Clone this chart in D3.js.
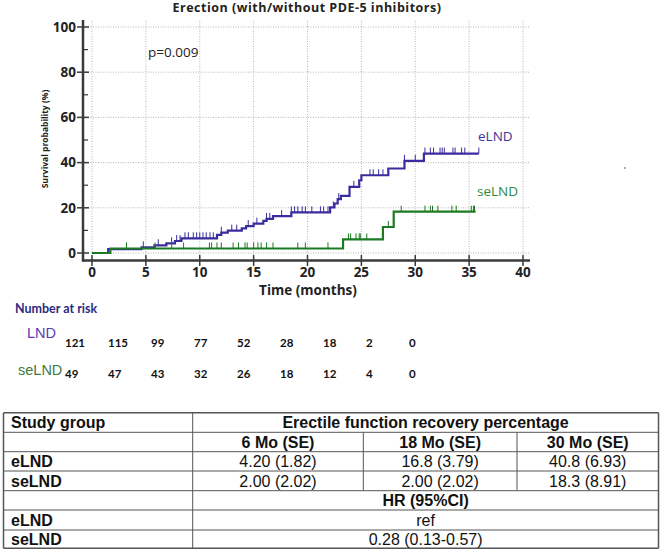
<!DOCTYPE html>
<html>
<head>
<meta charset="utf-8">
<script src="https://cdn.jsdelivr.net/npm/d3@7"></script>
<style>
  html, body { margin: 0; padding: 0; background: #fff; }
  svg { display: block; }
</style>
</head>
<body>
<svg id="chart" width="664" height="552"></svg>
<script>
// ---------------- DATA ----------------
const chartTitle = "Erection (with/without PDE-5 inhibitors)";
const pValueText = "p=0.009";
const xTicks = [0, 5, 10, 15, 20, 25, 30, 35, 40];
const yTicks = [0, 20, 40, 60, 80, 100];
const yMinorTicks = [10, 30, 50, 70, 90];

// eLND Kaplan-Meier steps: [time (months), cumulative %]
const eLNDSteps = [[0,0],[1.5,1.7],[4.6,2.5],[5.8,3.4],[6.9,4.3],[7.7,5.3],[8.3,6.5],[11.6,8.0],[12.0,9.0],[12.6,9.9],[13.9,10.9],[14.3,11.9],[15.0,13.0],[15.9,14.2],[16.2,15.1],[16.8,16.3],[18.5,18.0],[22.1,20.2],[22.5,21.9],[22.8,23.8],[23.1,25.3],[23.9,29.3],[24.8,32.2],[25.0,34.4],[27.5,37.4],[29.0,40.8],[30.8,44.0]];
const eLNDEnd = 35.9;
const eLNDCensored = [4.76,6.15,7.39,7.86,8.17,8.63,8.94,9.4,9.71,10.0,10.3,10.6,10.95,11.26,12.0,12.97,13.43,14.5,15.3,16.2,16.5,17.6,18.5,18.8,19.1,19.5,19.8,20.4,21.2,21.5,21.9,22.4,22.9,24.3,25.8,26.1,26.6,27.0,29.0,30.0,30.9,31.4,31.7,32.3,32.5,32.7,33.5,33.7,34.3,34.6,35.9];

// seLND Kaplan-Meier steps
const seLNDSteps = [[0,0],[1.7,2.0],[23.3,6.0],[27.0,11.5],[28.0,18.3]];
const seLNDEnd = 35.6;
const seLNDCensored = [3.2,5.85,7.4,8.5,10.9,11.1,11.6,12.0,13.1,13.6,14.2,14.4,15.0,15.4,15.7,16.2,16.8,19.1,19.8,21.9,23.8,24.0,24.5,24.8,24.9,25.5,27.5,28.7,30.9,31.4,31.6,32.1,33.4,33.8,35.2,35.4,35.5];

const riskTimes = [0, 5, 10, 15, 20, 25, 30, 35, 40];
const riskELND = [121, 115, 99, 77, 52, 28, 18, 2, 0];
const riskSeLND = [49, 47, 43, 32, 26, 18, 12, 4, 0];

const tableTopHeader = ["Study group", "Erectile function recovery percentage"];
const tableTimeHeaders = ["6 Mo (SE)", "18 Mo (SE)", "30 Mo (SE)"];
const tableGroups = ["eLND", "seLND"];
const tableELND = ["4.20 (1.82)", "16.8 (3.79)", "40.8 (6.93)"];
const tableSeLND = ["2.00 (2.02)", "2.00 (2.02)", "18.3 (8.91)"];
const hrHeader = "HR (95%CI)";
const hrValues = ["ref", "0.28 (0.13-0.57)"];

// ---------------- DRAW ----------------
const svg = d3.select("#chart");
const blue = "#3a2c9e";
const green = "#1c7a22";
const sansBold = "'Open Sans', sans-serif";

const x = d3.scaleLinear().domain([0, 40]).range([92, 523]);
const y = d3.scaleLinear().domain([0, 100]).range([253, 27]);

// grid
const grid = svg.append("g");
grid.selectAll(".gx").data(xTicks).join("line")
  .attr("x1", d => x(d)).attr("x2", d => x(d)).attr("y1", 21).attr("y2", 260)
  .attr("stroke", "#b8b8b8").attr("stroke-width", 1).attr("stroke-dasharray", "1,1.5");
grid.selectAll(".gy").data(yTicks).join("line")
  .attr("x1", 83).attr("x2", 530).attr("y1", d => y(d)).attr("y2", d => y(d))
  .attr("stroke", "#b8b8b8").attr("stroke-width", 1).attr("stroke-dasharray", "1,1.5");

// axes
const axisColor = "#3a3a3a";
svg.append("line").attr("x1", 83).attr("x2", 83).attr("y1", 20).attr("y2", 261.5)
  .attr("stroke", axisColor).attr("stroke-width", 2.5);
svg.append("line").attr("x1", 82).attr("x2", 530).attr("y1", 260.5).attr("y2", 260.5)
  .attr("stroke", axisColor).attr("stroke-width", 2.5);

svg.selectAll(".ytick").data(yTicks).join("line")
  .attr("x1", 77).attr("x2", 89).attr("y1", d => y(d)).attr("y2", d => y(d))
  .attr("stroke", axisColor).attr("stroke-width", 1.5);
svg.selectAll(".yminor").data(yMinorTicks).join("line")
  .attr("x1", 83).attr("x2", 88).attr("y1", d => y(d)).attr("y2", d => y(d))
  .attr("stroke", axisColor).attr("stroke-width", 1.2);
svg.selectAll(".xtick").data(xTicks).join("line")
  .attr("x1", d => x(d)).attr("x2", d => x(d)).attr("y1", 255).attr("y2", 266)
  .attr("stroke", axisColor).attr("stroke-width", 1.5);

svg.selectAll(".ylab").data(yTicks).join("text")
  .attr("x", 76).attr("y", d => y(d) + 4.8)
  .attr("text-anchor", "end")
  .attr("font-family", sansBold).attr("font-weight", "bold").attr("font-size", 13.5)
  .attr("fill", "#222").text(d => d);
svg.selectAll(".xlab").data(xTicks).join("text")
  .attr("x", d => x(d)).attr("y", 277)
  .attr("text-anchor", "middle")
  .attr("font-family", sansBold).attr("font-weight", "bold").attr("font-size", 13.5)
  .attr("fill", "#222").text(d => d);

svg.append("text").attr("x", 308).attr("y", 295).attr("text-anchor", "middle")
  .attr("font-family", sansBold).attr("font-weight", "bold").attr("font-size", 13.5)
  .attr("fill", "#222").text("Time (months)");

svg.append("text")
  .attr("transform", "translate(48,139) rotate(-90)")
  .attr("text-anchor", "middle")
  .attr("font-family", sansBold).attr("font-weight", "bold").attr("font-size", 8.5)
  .attr("fill", "#222").text("Survival probability (%)");

svg.append("text").attr("x", 307).attr("y", 12).attr("text-anchor", "middle")
  .attr("font-family", sansBold).attr("font-weight", "bold").attr("font-size", 12.5)
  .attr("letter-spacing", 0.5)
  .attr("fill", "#222").text(chartTitle);

svg.append("text").attr("x", 148).attr("y", 57)
  .attr("font-family", sansBold).attr("font-size", 13.5)
  .attr("fill", "#222").text(pValueText);

// curves
function stepValue(steps, t) {
  let v = 0;
  for (const s of steps) { if (s[0] <= t) v = s[1]; }
  return v;
}
const line = d3.line().x(d => x(d[0])).y(d => y(d[1])).curve(d3.curveStepAfter);

function drawCurve(steps, end, censored, color) {
  const pts = steps.concat([[end, steps[steps.length - 1][1]]]);
  svg.append("path").attr("d", line(pts)).attr("fill", "none")
    .attr("stroke", color).attr("stroke-width", 2.2);
  svg.append("g").selectAll("line").data(censored).join("line")
    .attr("x1", d => x(d)).attr("x2", d => x(d))
    .attr("y1", d => y(stepValue(steps, d))).attr("y2", d => y(stepValue(steps, d)) - 6)
    .attr("stroke", color).attr("stroke-width", 1);
}
drawCurve(eLNDSteps, eLNDEnd, eLNDCensored, blue);
drawCurve(seLNDSteps, seLNDEnd, seLNDCensored, green);

svg.append("text").attr("x", 478).attr("y", 141)
  .attr("font-family", sansBold).attr("font-size", 13.5).attr("fill", "#3d3597").text("eLND");
svg.append("text").attr("x", 477).attr("y", 196)
  .attr("font-family", sansBold).attr("font-size", 13.5).attr("fill", "#2f8a3a").text("seLND");

svg.append("circle").attr("cx", 625).attr("cy", 168).attr("r", 0.9).attr("fill", "#888");

// number at risk
svg.append("text").attr("x", 15).attr("y", 313)
  .attr("font-family", "Lato, sans-serif").attr("font-weight", "bold").attr("font-size", 12.5)
  .attr("fill", "#2b2b80").text("Number at risk");
svg.append("text").attr("x", 27).attr("y", 338)
  .attr("font-family", "'Liberation Sans', Arial, sans-serif").attr("font-size", 14.5)
  .attr("fill", "#5a3db3").text("LND");
svg.append("text").attr("x", 18).attr("y", 375)
  .attr("font-family", "'Liberation Sans', Arial, sans-serif").attr("font-size", 14.5)
  .attr("fill", "#3d7a3d").text("seLND");

const rx = d3.scaleLinear().domain([0, 40]).range([65, 409]);
svg.selectAll(".r1").data(riskTimes).join("text")
  .attr("x", (d) => rx(d)).attr("y", 347)
  .attr("font-family", "Lato, sans-serif").attr("font-weight", "bold").attr("font-size", 11.5)
  .attr("fill", "#111").text((d, i) => riskELND[i]);
svg.selectAll(".r2").data(riskTimes).join("text")
  .attr("x", (d) => rx(d)).attr("y", 378)
  .attr("font-family", "Lato, sans-serif").attr("font-weight", "bold").attr("font-size", 11.5)
  .attr("fill", "#111").text((d, i) => riskSeLND[i]);

// table
const colX = [3.5, 192.7, 363.3, 517, 658.5];
const rowY = [412.7, 432.3, 451.7, 471, 490.7, 510, 530, 548.3];
const tFont = "'Liberation Sans', Arial, sans-serif";
const tColor = "#555";
const tbl = svg.append("g");

tbl.selectAll(".hl").data(rowY).join("line")
  .attr("x1", colX[0]).attr("x2", colX[4]).attr("y1", d => d).attr("y2", d => d)
  .attr("stroke", tColor).attr("stroke-width", (d, i) => (i === 0 || i === rowY.length - 1) ? 1.5 : 1);
[colX[0], colX[4]].forEach(cx => {
  tbl.append("line").attr("x1", cx).attr("x2", cx).attr("y1", rowY[0]).attr("y2", rowY[7])
    .attr("stroke", tColor).attr("stroke-width", 1.5);
});
tbl.append("line").attr("x1", colX[1]).attr("x2", colX[1]).attr("y1", rowY[0]).attr("y2", rowY[7])
  .attr("stroke", tColor).attr("stroke-width", 1);
[colX[2], colX[3]].forEach(cx => {
  tbl.append("line").attr("x1", cx).attr("x2", cx).attr("y1", rowY[1]).attr("y2", rowY[4])
    .attr("stroke", tColor).attr("stroke-width", 1);
});

function cellText(txt, xp, row, anchor, bold) {
  const yc = (rowY[row] + rowY[row + 1]) / 2;
  tbl.append("text").attr("x", xp).attr("y", yc + 5.7)
    .attr("text-anchor", anchor)
    .attr("font-family", tFont).attr("font-size", 16)
    .attr("font-weight", bold ? "bold" : "normal")
    .attr("fill", "#111").text(txt);
}
const midAll = (colX[1] + colX[4]) / 2;
cellText(tableTopHeader[0], 11, 0, "start", true);
cellText(tableTopHeader[1], midAll, 0, "middle", true);
tableTimeHeaders.forEach((h, i) => cellText(h, (colX[i + 1] + colX[i + 2]) / 2, 1, "middle", true));
cellText(tableGroups[0], 11, 2, "start", true);
cellText(tableGroups[1], 11, 3, "start", true);
tableELND.forEach((v, i) => cellText(v, (colX[i + 1] + colX[i + 2]) / 2, 2, "middle", false));
tableSeLND.forEach((v, i) => cellText(v, (colX[i + 1] + colX[i + 2]) / 2, 3, "middle", false));
cellText(hrHeader, midAll, 4, "middle", true);
cellText(tableGroups[0], 11, 5, "start", true);
cellText(tableGroups[1], 11, 6, "start", true);
cellText(hrValues[0], midAll, 5, "middle", false);
cellText(hrValues[1], midAll, 6, "middle", false);
</script>
</body>
</html>
